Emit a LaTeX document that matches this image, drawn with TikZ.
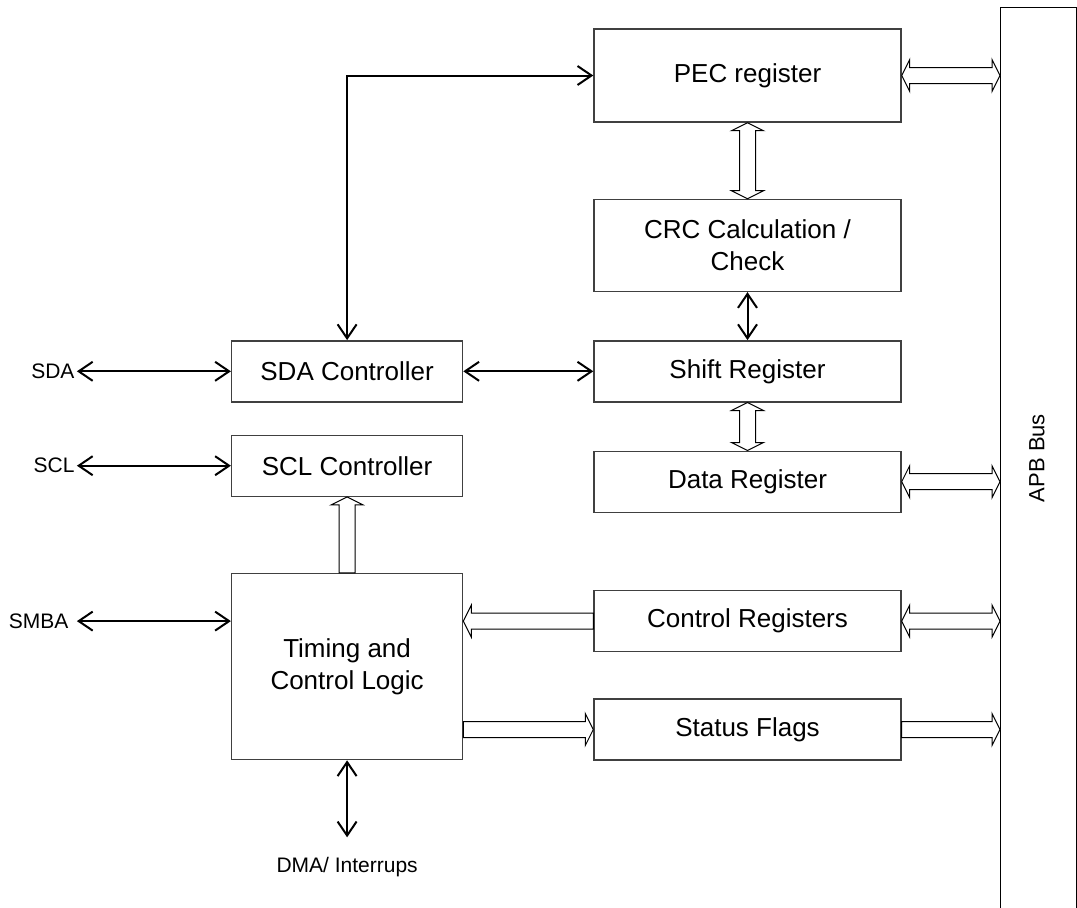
\documentclass[tikz,border=0pt]{standalone}
\usepackage{fontspec}
\setmainfont{Liberation Sans}
\usetikzlibrary{arrows.meta, calc, positioning}
% hollow bus arrows: head at both ends / head at #2 only
\newcommand{\busarrow}[2]{%
  \coordinate (ba) at ($(#1)!4pt!(#2)$);
  \coordinate (bb) at ($(#2)!4pt!(#1)$);
  \draw[bus] (#1) -- ($(ba)!8pt!90:(#2)$) -- ($(ba)!4pt!90:(#2)$)
    -- ($(bb)!4pt!-90:(#1)$) -- ($(bb)!8pt!-90:(#1)$) -- (#2)
    -- ($(bb)!8pt!90:(#1)$) -- ($(bb)!4pt!90:(#1)$)
    -- ($(ba)!4pt!-90:(#2)$) -- ($(ba)!8pt!-90:(#2)$) -- cycle;}
\newcommand{\busto}[2]{%
  \coordinate (bb) at ($(#2)!4pt!(#1)$);
  \draw[bus] ($(#1)!4pt!90:(#2)$)
    -- ($(bb)!4pt!-90:(#1)$) -- ($(bb)!8pt!-90:(#1)$) -- (#2)
    -- ($(bb)!8pt!90:(#1)$) -- ($(bb)!4pt!90:(#1)$)
    -- ($(#1)!4pt!-90:(#2)$) -- cycle;}

\begin{document}
\begin{tikzpicture}[
    >={Straight Barb[length=7pt,width=9.5pt]},
    every node/.style={font=\fontsize{13}{16}\selectfont},
    node distance = 24pt and 65pt,
    blk/.style ={draw=black!75, line width=0.7pt, align=center,
                 inner sep=0pt, minimum width=153.5pt, minimum height=30.5pt},
    ctl/.style ={blk, minimum width=115.5pt},
    lbl/.style ={font=\fontsize{10.5}{12}\selectfont, inner sep=1pt},
    sig/.style ={<->, line width=1pt},
    bus/.style ={draw, line width=0.5pt, fill=white},
]
\useasboundingbox (0,0) rectangle (538.5pt,-453.5pt);
\node[blk, minimum height=46.5pt] (pec) at (373.75pt,-37.75pt) {PEC register};
\node[blk, minimum height=46pt, below=38pt of pec] (crc) {CRC Calculation /\\Check};
\node[blk, below=of crc]        (shift)  {Shift Register};
\node[blk, below=of shift]      (data)   {Data Register};
\node[blk, below=38.5pt of data] (ctrl)  {Control Registers};
\node[blk, below=23pt of ctrl]  (status) {Status Flags};
\node[ctl, left=of shift]       (sda)    {SDA Controller};
\node[ctl, below=16pt of sda]   (scl)    {SCL Controller};
\node[ctl, minimum height=93pt, below=38pt of scl] (timing)
     {Timing and\\Control Logic};
\node[draw=black, line width=0.7pt, inner sep=0pt, minimum width=38pt,
      minimum height=451pt, anchor=north west] (apb) at (500pt,-3.5pt) {};
\node[rotate=90, font=\fontsize{11}{13}\selectfont] (apbtxt)
     at (518.5pt,-229pt) {APB Bus};
\coordinate (smbaend) at (timing.west |- ctrl.west);
\coordinate (ctrlin)  at (timing.east |- ctrl.west);
\coordinate (statout) at (timing.east |- status.west);
\coordinate (dmaend)  at ($(timing.south)+(0,-38.5pt)$);
\node[lbl, left=77pt of sda] (sdapin) {SDA};
\node[lbl, left=77pt of scl] (sclpin) {SCL};
\node[lbl, inner xsep=4pt, left=77pt of smbaend] (smbapin) {SMBA};
\node[lbl, below=9pt of dmaend] (dmapin) {DMA/ Interrups};
\draw[sig] (sdapin) -- (sda);
\draw[sig] (sclpin) -- (scl);
\draw[sig] (smbapin) -- (smbaend);
\draw[sig] (sda) -- (shift);
\draw[sig] (sda.north) |- (pec.west);
\draw[sig] (crc) -- (shift);
\draw[sig] (timing) -- (dmaend);
\busarrow{pec.south}{crc.north}
\busarrow{shift.south}{data.north}
\busto{timing.north}{scl.south}
\busto{ctrl.west}{ctrlin}
\busto{statout}{status.west}
\busarrow{pec.east}{pec.east -| apb.west}
\busarrow{data.east}{data.east -| apb.west}
\busarrow{ctrl.east}{ctrl.east -| apb.west}
\busto{status.east}{status.east -| apb.west}
\end{tikzpicture}
\end{document}
